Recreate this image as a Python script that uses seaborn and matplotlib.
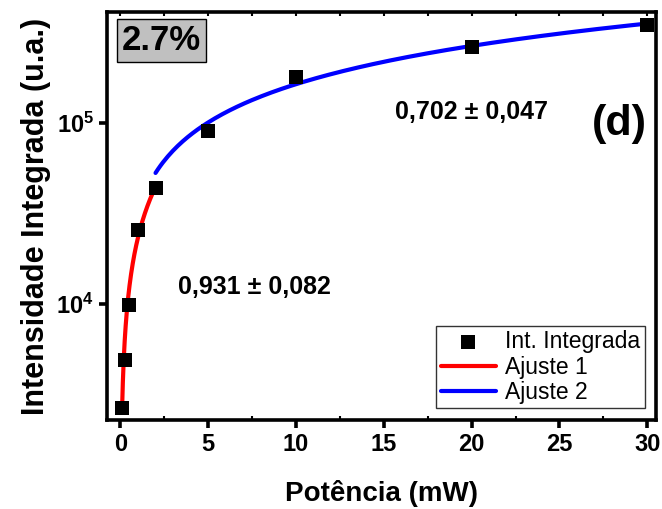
import numpy as np
import pandas as pd
import seaborn as sns
import matplotlib.pyplot as plt

# data
potencia = [0.1, 0.25, 0.5, 1, 2, 5, 10, 20, 30]
intensidade = [2660, 4900, 9900, 25700, 43800, 90300, 179000, 263000, 347000]

# power-law fits  I = A * P^k
fit1_range = (0.1, 2.0)
fit1_amp, fit1_exp = 23300, 0.931
fit2_range = (2.0, 30.0)
fit2_amp, fit2_exp = 32600, 0.702

sns.set_style("ticks")
plt.rcParams['font.family'] = ['Liberation Sans', 'DejaVu Sans']
plt.rcParams['font.weight'] = 'bold'
plt.rcParams['text.color'] = 'black'
plt.rcParams['axes.labelcolor'] = 'black'
plt.rcParams['axes.edgecolor'] = 'black'
plt.rcParams['xtick.color'] = 'black'
plt.rcParams['ytick.color'] = 'black'
plt.rcParams['mathtext.fontset'] = 'custom'
plt.rcParams['mathtext.bf'] = 'Liberation Sans:bold'
plt.rcParams['mathtext.rm'] = 'Liberation Sans:bold'
plt.rcParams['mathtext.default'] = 'bf'

df = pd.DataFrame({'P': potencia, 'I': intensidade})
x1 = np.linspace(*fit1_range, 200)
x2 = np.linspace(*fit2_range, 200)
fit1 = pd.DataFrame({'P': x1, 'I': fit1_amp * x1 ** fit1_exp})
fit2 = pd.DataFrame({'P': x2, 'I': fit2_amp * x2 ** fit2_exp})

fig = plt.figure(figsize=(6.62, 5.09), dpi=100)
ax = fig.add_axes([0.162, 0.175, 0.829, 0.801])

sns.scatterplot(data=df, x='P', y='I', marker='s', s=115, color='black',
                edgecolor='black', linewidth=0, ax=ax, label='Int. Integrada', zorder=3)
sns.lineplot(data=fit1, x='P', y='I', color='#ff0000', lw=3, ax=ax, label='Ajuste 1')
sns.lineplot(data=fit2, x='P', y='I', color='#0000ff', lw=3, ax=ax, label='Ajuste 2')

ax.set_yscale('log')
ax.set_xlim(-0.75, 30.5)
ax.set_ylim(2290, 4.1e5)
ax.set_xticks([0, 5, 10, 15, 20, 25, 30])
ax.set_xticks(np.arange(2.5, 30, 5), minor=True)
ax.set_yticks([1e4, 1e5])
ax.yaxis.set_minor_locator(plt.NullLocator())

ax.set_xlabel('Potência (mW)', fontsize=20, fontweight='bold', labelpad=17)
ax.set_ylabel('Intensidade Integrada (u.a.)', fontsize=22, fontweight='bold', labelpad=4)

for s in ax.spines.values():
    s.set_linewidth(2.6)
ax.tick_params(axis='both', which='major', labelsize=17, width=2.6, length=6, direction='out')
ax.tick_params(axis='x', which='minor', width=1.5, length=3, direction='in', top=True)
ax.tick_params(axis='x', which='major', top=True)
for lab in ax.get_xticklabels() + ax.get_yticklabels():
    lab.set_fontweight('bold')
# top ticks point inward
for t in ax.xaxis.get_major_ticks():
    t.tick2line.set_marker(3)
    t.tick2line.set_markersize(3)
    t.tick2line.set_markeredgewidth(1.5)

ax.text(0.099, 0.931, '2.7%', transform=ax.transAxes, fontsize=25, fontweight='bold',
        ha='center', va='center',
        bbox=dict(boxstyle='square,pad=0.15', facecolor='#c0c0c0', edgecolor='black', lw=1))
ax.text(0.663, 0.755, '0,702 ± 0,047', transform=ax.transAxes, fontsize=18,
        fontweight='bold', ha='center', va='center')
ax.text(0.268, 0.326, '0,931 ± 0,082', transform=ax.transAxes, fontsize=18,
        fontweight='bold', ha='center', va='center')
ax.text(0.934, 0.725, '(d)', transform=ax.transAxes, fontsize=31,
        fontweight='bold', ha='center', va='center')

leg = ax.legend(loc='lower right', frameon=True, fancybox=False,
                borderpad=0.2, labelspacing=0.1, handlelength=2.4, handletextpad=0.4,
                borderaxespad=0.5, prop={'size': 16.5, 'weight': 'normal'})
leg.get_frame().set_edgecolor('black')
leg.get_frame().set_linewidth(1)
for txt in leg.get_texts():
    txt.set_color('black')

fig.savefig('out.png', dpi=100)
